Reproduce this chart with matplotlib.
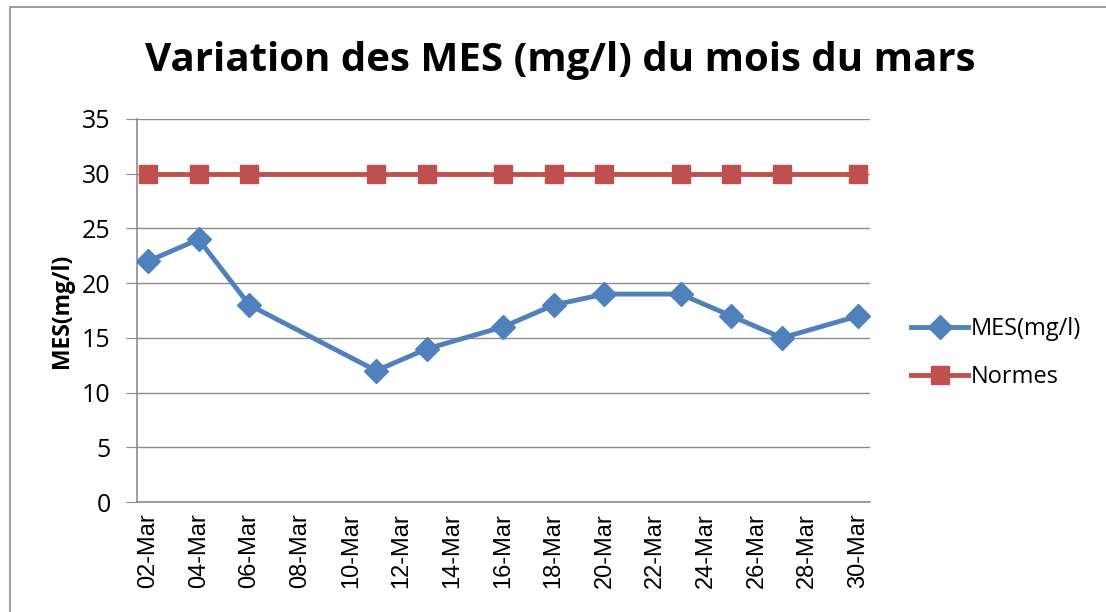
import matplotlib
matplotlib.use("Agg")
import matplotlib.pyplot as plt
import matplotlib.dates as mdates
from matplotlib.patches import Rectangle
import datetime as dt

dates = ["2024-03-02", "2024-03-04", "2024-03-06", "2024-03-11", "2024-03-13", "2024-03-16",
         "2024-03-18", "2024-03-20", "2024-03-23", "2024-03-25", "2024-03-27", "2024-03-30"]
mes = [22, 24, 18, 12, 14, 16, 18, 19, 19, 17, 15, 17]
normes = [30] * len(dates)
tick_dates = ["2024-03-%02d" % d for d in range(2, 31, 2)]

x = [dt.datetime.strptime(d, "%Y-%m-%d") for d in dates]
xt = [dt.datetime.strptime(d, "%Y-%m-%d") for d in tick_dates]

fig = plt.figure(figsize=(11.06, 6.12), dpi=100)
fig.patches.append(Rectangle((10/1106, -0.01), 1.05, 1 - 7/612 + 0.01,
                             transform=fig.transFigure, fill=False, edgecolor="#8c8c8c", lw=1.2))
ax = fig.add_axes([137/1106, 1 - 502/612, (870-137)/1106, (502-119)/612])

ax.plot(x, mes, color="#4F81BD", lw=3.5, marker="D", markersize=12, label="MES(mg/l)", zorder=3)
ax.plot(x, normes, color="#C0504D", lw=3.5, marker="s", markersize=13.5, label="Normes", zorder=3)

ax.set_ylim(0, 35)
ax.set_yticks(range(0, 36, 5))
ax.grid(axis="y", color="#8c8c8c", lw=1)
ax.set_axisbelow(True)
ax.set_xticks(xt)
ax.xaxis.set_major_formatter(mdates.DateFormatter("%d-%b"))
lo = mdates.date2num(x[0]) - 0.43
hi = mdates.date2num(x[-1]) + 0.47
ax.set_xlim(lo, hi)
for s in ["top", "right"]:
    ax.spines[s].set_visible(False)
for s in ["left", "bottom"]:
    ax.spines[s].set_color("#8c8c8c")
    ax.spines[s].set_linewidth(1.2)
ax.tick_params(axis="x", length=0, pad=8, labelrotation=90, labelsize=17)
ax.tick_params(axis="y", length=8, color="#8c8c8c", pad=11, labelsize=18)
for lab in ax.get_xticklabels():
    lab.set_family("Liberation Sans")
for lab in ax.get_yticklabels():
    lab.set_family("Open Sans")

ax.set_ylabel("MES(mg/l)", fontsize=16.5, fontweight="bold", family="Open Sans", labelpad=6)
fig.text(560/1106, 1 - 61/612, "Variation des MES (mg/l) du mois du mars", ha="center", va="center",
         fontsize=29, fontweight="bold", family="Open Sans")

leg = ax.legend(loc="center left", frameon=False,
                prop={"family": "Open Sans", "size": 17}, handlelength=2.4, handletextpad=0.1,
                labelspacing=1.0)
leg.set_bbox_to_anchor((890/1106, 1 - 353/612), transform=fig.transFigure)

fig.savefig("out.png", dpi=100)
